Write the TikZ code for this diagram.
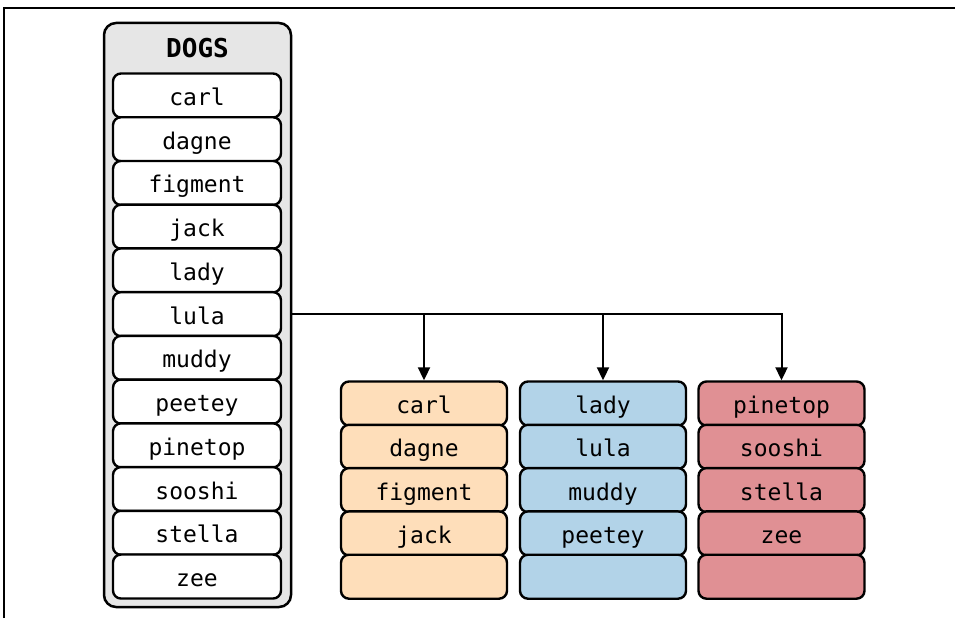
\documentclass[tikz,border=0pt]{standalone}
\usepackage{fontspec}
\setmonofont{DejaVu Sans Mono}
\usetikzlibrary{arrows.meta}
\definecolor{boxgray}{RGB}{230,230,230}
\definecolor{peach}{RGB}{254,222,186}
\definecolor{skyblue}{RGB}{178,211,232}
\definecolor{rosered}{RGB}{224,144,148}
\begin{document}
\begin{tikzpicture}[x=1pt,y=-1pt,
  cell/.style={draw=black, line width=2.4pt, rounded corners=8pt,
    rectangle, minimum width=168pt, minimum height=44pt, inner sep=0pt,
    font=\ttfamily\fontsize{23}{25}\selectfont,
    text height=25pt, text depth=5pt},
  whitecell/.style={cell, fill=white},
  groupcell/.style={cell, minimum width=166pt},
  outerbox/.style={draw=black, line width=2.5pt, rounded corners=12pt, fill=boxgray},
  title/.style={font=\ttfamily\bfseries\fontsize{26}{28}\selectfont, anchor=base, inner sep=0pt},
  link/.style={line width=2pt},
  arrowlink/.style={link, -{Triangle[length=13pt, width=12pt]}},
  frame/.style={line width=1.5pt}]
\useasboundingbox (0,0) rectangle (955,618);

% frame edges
\draw[frame] (4,618) -- (4,8) -- (955,8);

% list of all dogs
\node[outerbox, minimum width=187pt, minimum height=584pt, inner sep=0pt] (dogs) at (197.5,315) {};
\node[title] (dogstitle) at (197.5,58) {DOGS};
\foreach \name [count=\i from 0] in {carl,dagne,figment,jack,lady,lula,muddy,peetey,pinetop,sooshi,stella,zee}
  \node[whitecell] (d\i) at (197, 95.5+43.73*\i) {\name};

% three groups
\foreach \name [count=\i from 0] in {carl,dagne,figment,jack,{}}
  \node[groupcell, fill=peach] (a\i) at (424, 403.5+43.3*\i) {\name};
\foreach \name [count=\i from 0] in {lady,lula,muddy,peetey,{}}
  \node[groupcell, fill=skyblue] (b\i) at (603, 403.5+43.3*\i) {\name};
\foreach \name [count=\i from 0] in {pinetop,sooshi,stella,zee,{}}
  \node[groupcell, fill=rosered] (c\i) at (781.5, 403.5+43.3*\i) {\name};

% split connector
\coordinate (split) at (dogs.east |- d5.center);
\draw[arrowlink] (split) -| (c0.north);
\draw[arrowlink] (a0.north |- split) -- (a0.north);
\draw[arrowlink] (b0.north |- split) -- (b0.north);
\end{tikzpicture}
\end{document}
